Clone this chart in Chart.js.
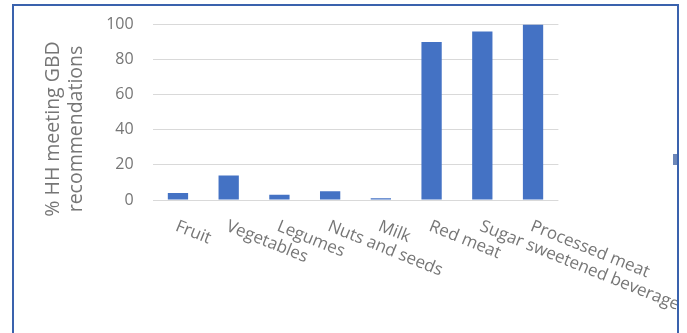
<!DOCTYPE html>
<html>
<head>
<meta charset="utf-8">
<script src="https://cdn.jsdelivr.net/npm/chart.js@4/dist/chart.umd.min.js"></script>
<style>
  html, body { margin: 0; padding: 0; background: #ffffff; }
  #page { position: relative; width: 687px; height: 333px; overflow: hidden; background: #ffffff; }
  #frame {
    position: absolute; left: 12px; top: 4px; width: 663px; height: 400px;
    border: 2px solid #3a62ad; overflow: hidden; background: #ffffff;
  }
  #plot { position: absolute; left: -14px; top: -6px; width: 687px; height: 333px; }
  #legend-key-stub {
    position: absolute; left: 659px; top: 148px; width: 4px; height: 11px;
    background: #6d87b8;
  }
</style>
</head>
<body>
<div id="page">
  <div id="frame">
    <canvas id="plot" width="687" height="333"></canvas>
    <div id="legend-key-stub"></div>
  </div>
</div>
<script>
// Food groups and the share of households meeting each GBD recommendation
const categories = ['Fruit', 'Vegetables', 'Legumes', 'Nuts and seeds', 'Milk',
                    'Red meat', 'Sugar sweetened beverages', 'Processed meat'];
const pctMeeting = [4, 14, 3, 5, 1, 90, 96, 100];
const yTitleLines = ['% HH meeting GBD', 'recommendations'];

const TEXT_GREY = '#767676';
const FONT = '"Open Sans", "DejaVu Sans", sans-serif';

// Category labels run down and to the right from each tick, and the
// axis title is drawn as two rotated lines left of the tick labels.
const slantedLabels = {
  id: 'slantedLabels',
  afterDraw(chart) {
    const ctx = chart.ctx;
    const xs = chart.scales.x;
    const ys = chart.scales.y;
    const angle = 22 * Math.PI / 180;
    ctx.save();
    ctx.fillStyle = TEXT_GREY;
    ctx.font = '17px ' + FONT;
    ctx.textAlign = 'left';
    ctx.textBaseline = 'alphabetic';
    categories.forEach((label, i) => {
      const x = xs.getPixelForTick(i);
      ctx.save();
      ctx.translate(x + 1, ys.bottom + 19);
      ctx.rotate(angle);
      ctx.fillText(label, 0, 12);
      ctx.restore();
    });
    ctx.restore();

    ctx.save();
    ctx.fillStyle = TEXT_GREY;
    ctx.font = '19.5px ' + FONT;
    ctx.textAlign = 'center';
    ctx.textBaseline = 'middle';
    const midY = 129;
    const lineX = [53, 76];
    yTitleLines.forEach((line, i) => {
      ctx.save();
      ctx.translate(lineX[i], midY);
      ctx.rotate(-Math.PI / 2);
      ctx.fillText(line, 0, 0);
      ctx.restore();
    });
    ctx.restore();
  }
};

new Chart(document.getElementById('plot'), {
  type: 'bar',
  data: {
    labels: categories,
    datasets: [{
      data: pctMeeting,
      backgroundColor: '#4472c4',
      borderWidth: 0,
      categoryPercentage: 1.0,
      barPercentage: 0.4
    }]
  },
  options: {
    responsive: false,
    devicePixelRatio: 1,
    animation: false,
    layout: { padding: { left: 0, right: 128.6, top: 24.5, bottom: 0 } },
    plugins: { legend: { display: false }, tooltip: { enabled: false } },
    scales: {
      x: {
        grid: { display: false },
        border: { display: false },
        ticks: { display: false },
        afterFit(scale) { scale.height = 133; }
      },
      y: {
        min: 0,
        max: 100,
        ticks: {
          stepSize: 20,
          padding: 3,
          color: TEXT_GREY,
          font: { family: FONT, size: 16 }
        },
        grid: { color: '#d9d9d9', lineWidth: 1, drawTicks: true, tickLength: 16, tickColor: 'rgba(0,0,0,0)' },
        border: { display: false },
        afterFit(scale) { scale.width = 152.6; }
      }
    }
  },
  plugins: [slantedLabels]
});
</script>
</body>
</html>
